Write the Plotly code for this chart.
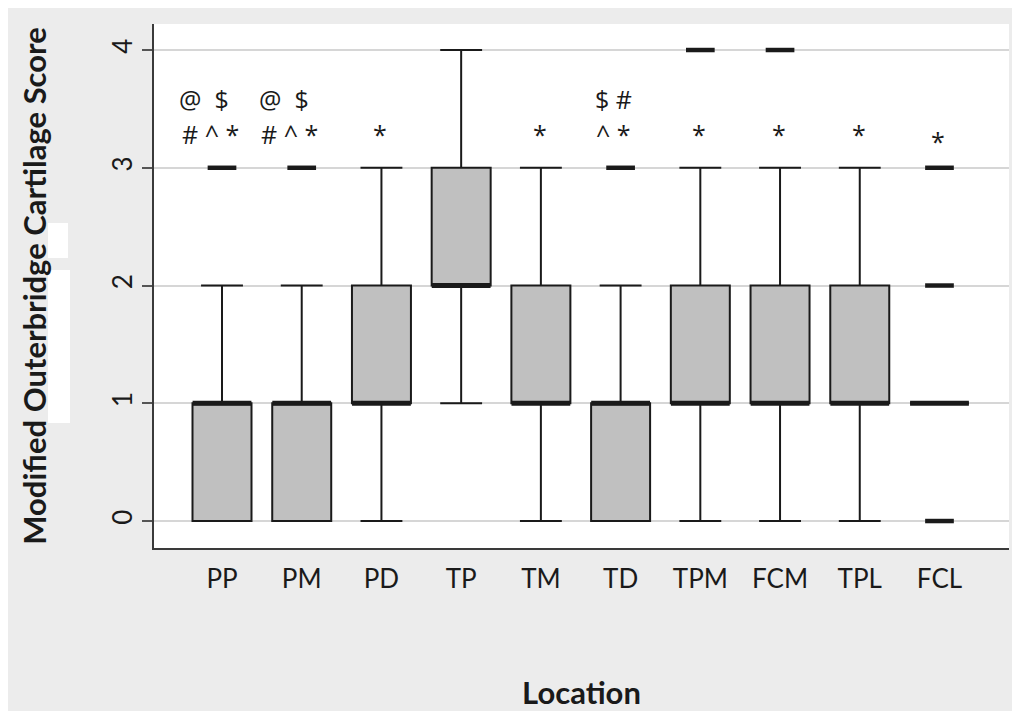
import plotly.graph_objects as go

# ---- data ----
locations = ["PP", "PM", "PD", "TP", "TM", "TD", "TPM", "FCM", "TPL", "FCL"]
q1 = [0, 0, 1, 2, 1, 0, 1, 1, 1, 1]
median = [1, 1, 1, 2, 1, 1, 1, 1, 1, 1]
q3 = [1, 1, 2, 3, 2, 1, 2, 2, 2, 1]
lower_whisker = [0, 0, 0, 1, 0, 0, 0, 0, 0, 1]
upper_whisker = [2, 2, 3, 4, 3, 2, 3, 3, 3, 1]
outlier_loc = ["PP", "PM", "TD", "TPM", "FCM", "FCL", "FCL", "FCL"]
outlier_val = [3, 3, 3, 4, 4, 3, 2, 0]
sig_top = ["@ $", "@ $", "", "", "", "$ #", "", "", "", ""]
sig_bottom = ["# ^ *", "# ^ *", "*", "", "*", "^ *", "*", "*", "*", "*"]
y_ticks = [0, 1, 2, 3, 4]

FONT = "Lato"
INK = "#1a1a1a"

OFF = 8  # page margin of the html body
W, H = 1012, 703
ML, MR, MT, MB = 146, 11, 16, 163
PW, PH = W - ML - MR, H - MT - MB

def px_x(p):  # screen pixel -> paper
    return (p - OFF - ML) / PW

def px_y(p):
    return (H - MB - (p - OFF)) / PH

fig = go.Figure()

fig.add_trace(go.Box(
    x=locations, q1=q1, median=median, q3=q3,
    lowerfence=lower_whisker, upperfence=upper_whisker,
    width=0.74, whiskerwidth=0.71,
    fillcolor="#c0c0c0", line=dict(color=INK, width=2),
    boxpoints=False, showlegend=False, hoverinfo="skip",
))

# thick median bars
fig.add_trace(go.Scatter(
    x=locations, y=median, mode="markers", showlegend=False, hoverinfo="skip",
    marker=dict(symbol="line-ew", size=42, color=INK, line=dict(color=INK, width=5)),
))

# outliers drawn as short dashes
fig.add_trace(go.Scatter(
    x=outlier_loc, y=outlier_val, mode="markers", showlegend=False, hoverinfo="skip",
    marker=dict(symbol="line-ew", size=20.5, color=INK, line=dict(color=INK, width=4.5)),
))

# significance symbols
SIGFONT = dict(family="Open Sans", size=25, color=INK)
for loc, top, bot in zip(locations, sig_top, sig_bottom):
    if top:
        txt = top.replace(" ", "&nbsp;&nbsp;") if loc != "TD" else top.replace(" ", "&nbsp;")
        fig.add_annotation(x=loc, y=3.58, text=txt, showarrow=False,
                           xshift=-18 if loc != "TD" else -7,
                           font=SIGFONT, yanchor="middle")
    if bot:
        fig.add_annotation(x=loc, y=3.285 if loc != "FCL" else 3.23, text=bot, showarrow=False,
                           xshift=-12 if len(bot) > 3 else (-7 if len(bot) > 1 else -1),
                           font=SIGFONT, yanchor="middle")

# scan artefacts next to the y-axis title
shapes = [
    dict(type="rect", xref="paper", yref="paper", x0=px_x(48), x1=px_x(68), y0=px_y(258), y1=px_y(223),
         fillcolor="white", line=dict(width=0), layer="below"),
    dict(type="rect", xref="paper", yref="paper", x0=px_x(48), x1=px_x(70), y0=px_y(423), y1=px_y(270),
         fillcolor="white", line=dict(width=0), layer="below"),
]

fig.update_layout(
    width=W, height=H,
    margin=dict(l=ML, r=MR, t=MT, b=MB, autoexpand=False),
    paper_bgcolor="#ececec", plot_bgcolor="white",
    shapes=shapes,
    font=dict(family=FONT, color=INK),
    xaxis=dict(
        type="category", range=[-0.853, 9.872],
        showline=True, linecolor="#3a3a3a", linewidth=2, mirror=False,
        showgrid=False, zeroline=False, ticks="",
        tickfont=dict(family=FONT, size=26, color=INK),
        ticklabelstandoff=7,
        title=dict(text="<b>Location</b>", font=dict(family=FONT, size=31, color=INK), standoff=90),
        automargin=False,
    ),
    yaxis=dict(
        range=[-0.229, 4.221], tickvals=y_ticks,
        showline=True, linecolor="#3a3a3a", linewidth=2,
        showgrid=True, gridcolor="#d6d6d6", gridwidth=1.5, zeroline=False,
        ticks="outside", ticklen=10, tickwidth=1.5, tickcolor="#555555",
        tickangle=-90,
        tickfont=dict(family=FONT, size=26, color=INK),
        title=dict(text="<b>Modified Outerbridge Cartilage Score</b>",
                   font=dict(family=FONT, size=31, color=INK), standoff=50),
        automargin=False,
    ),
)

fig.write_html("out.html")
